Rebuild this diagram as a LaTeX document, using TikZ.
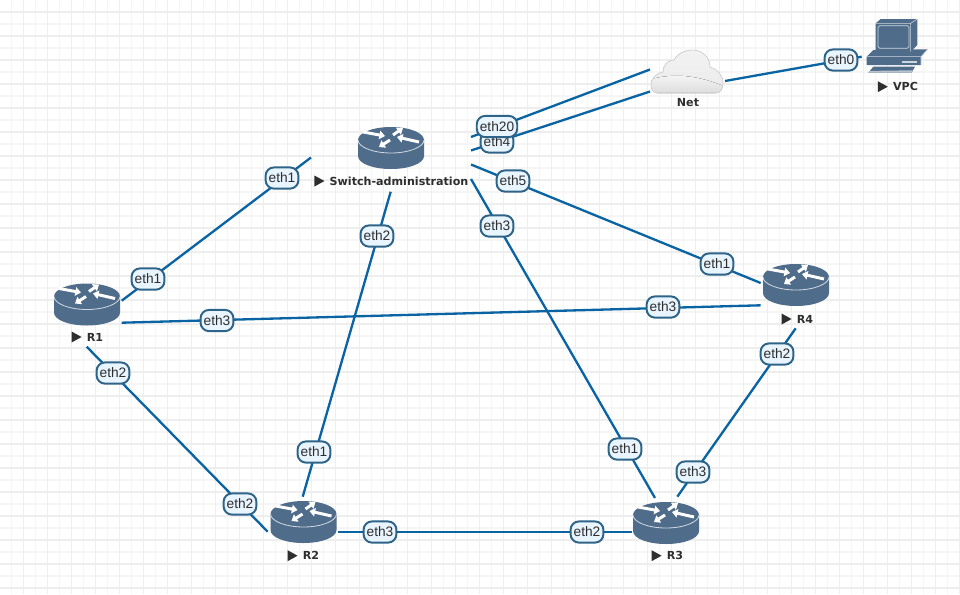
\documentclass[tikz,border=0pt]{standalone}
\usepackage{fontspec}
\setmainfont{Liberation Sans}
\newfontfamily\devfont{DejaVu Sans}
\usepackage{xcolor}
\usetikzlibrary{arrows.meta, positioning}
\definecolor{slate}{HTML}{4F6C8A}
\definecolor{rim}{HTML}{CDD6DF}
\definecolor{linkblue}{HTML}{0A64A4}
\definecolor{portedge}{HTML}{2F6489}
\definecolor{portfill}{HTML}{E8F4FE}
\definecolor{inkgrey}{HTML}{2E2E2E}
\definecolor{gridminor}{HTML}{F5F5F5}
\definecolor{gridmajor}{HTML}{EEEEEE}
\tikzset{%
	link/.style={
		draw=linkblue,
		line width=1.65pt
	},
	port/.style={
		draw=portedge,
		fill=portfill,
		line width=1.4pt,
		rounded corners=6pt,
		text=inkgrey,
		font=\fontsize{9.75}{10}\selectfont,
		inner xsep=2.2pt,
		inner ysep=0pt,
		minimum height=0.53cm
	},
	devtext/.style={
		text=inkgrey,
		inner sep=0pt,
		font=\devfont\bfseries\fontsize{7.9}{9}\selectfont
	},
	mover/.style={
		white,
		line width=2.1pt,
		-{Triangle[width=6pt,length=4pt]}
	},
	pics/router/.style={
		code={
			\fill[slate] (-33,-8) -- (-33,8) .. controls (-33,15.5) and (-18,21) .. (0,21) .. controls (18,21) and (33,15.5) .. (33,8) -- (33,-8) -- cycle;
			\fill[slate] (0,-8) ellipse [x radius=33, y radius=13];
			\draw[rim, line width=0.6pt] (-33,-8) .. controls (-33,-1) and (-18,5) .. (0,5) .. controls (18,5) and (33,-1) .. (33,-8);
			\draw[mover] (-28,-16) -- (-6,-12);
			\draw[mover] (2,-13) -- (12,-20);
			\draw[mover] (28,-6) -- (6,-11);
			\draw[mover] (-1,-8) -- (-12,-1);
		}
	}
}
% triangle in front of a device name
\newcommand{\playmark}[1]{\fill[inkgrey] ([xshift=-0.375cm]#1.west) ++(0,-5.5) -- ++(10,5.5) -- ++(-10,5.5) -- cycle;}
\newcommand{\cloudpath}{(657,93) .. controls (653,93) and (651,89) .. (651,85) .. controls (651,78) and (657,73) .. (663,72) .. controls (663,65) and (668,60) .. (674,60) .. controls (678,53) and (686,50) .. (692,50) .. controls (702,50) and (710,57) .. (710,67) .. controls (717,69) and (723,75) .. (723,83) .. controls (723,89) and (720,93) .. (716,93) -- cycle}

\begin{document}
\begin{tikzpicture}[x=0.025cm, y=-0.025cm]
	\useasboundingbox (0,0) rectangle (960,594);
	\fill[white] (0,0) rectangle (960,594);
	
	% grid
	\foreach \gx in {11.5,35.5,...,960} \draw[gridminor, line width=0.75pt] (\gx,0) -- (\gx,594);
	\foreach \gy in {24,48,...,594} \draw[gridminor, line width=0.75pt] (0,\gy) -- (960,\gy);
	\foreach \gx in {23.5,47.5,...,960} \draw[gridmajor, line width=0.9pt] (\gx,0) -- (\gx,594);
	\foreach \gy in {12,36,...,594} \draw[gridmajor, line width=0.9pt] (0,\gy) -- (960,\gy);
	
	% link ends
	\coordinate (swL) at (311,157.5);
	\coordinate (swS) at (390.7,191.7);
	\coordinate (swA) at (471,137);
	\coordinate (swB) at (471,150.5);
	\coordinate (swC) at (471,164.5);
	\coordinate (swD) at (471,179);
	\coordinate (netA) at (650,69.5);
	\coordinate (netB) at (650,91.5);
	\coordinate (netC) at (725,81);
	\coordinate (pcL) at (861.7,56.7);
	\coordinate (oneA) at (121.7,300.7);
	\coordinate (oneB) at (121.7,322.7);
	\coordinate (oneC) at (86.7,346.7);
	\coordinate (twoA) at (302.7,496.7);
	\coordinate (twoB) at (267.7,531.7);
	\coordinate (twoC) at (338.3,532.3);
	\coordinate (threeA) at (655,498);
	\coordinate (threeB) at (631.7,532.3);
	\coordinate (threeC) at (677.3,496.7);
	\coordinate (fourA) at (760.7,283);
	\coordinate (fourB) at (760.7,305.3);
	\coordinate (fourC) at (795.7,328.3);
	
	\draw[link] (oneA) -- (swL);
	\draw[link] (swS) -- (twoA);
	\draw[link] (swD) -- (threeA);
	\draw[link] (swC) -- (fourA);
	\draw[link] (swA) -- (netA);
	\draw[link] (swB) -- (netB);
	\draw[link] (netC) -- (pcL);
	\draw[link] (oneB) -- (fourB);
	\draw[link] (oneC) -- (twoB);
	\draw[link] (twoC) -- (threeB);
	\draw[link] (threeC) -- (fourC);
	
	% devices
	\pic at (391,148) {router};
	\pic at (87,304.5) {router};
	\pic at (303.5,522) {router};
	\pic at (666,523) {router};
	\pic at (796,285) {router};
	
	\fill[top color=white!90!gray, bottom color=white!84!gray] \cloudpath;
	\begin{scope}
		\clip \cloudpath;
		\fill[top color=white!95!gray, bottom color=white!74!gray] (648,80) .. controls (675,72) and (700,76) .. (726,87) -- (726,92) -- (648,92) -- cycle;
	\end{scope}
	\draw[white!68!gray, line width=0.6pt] \cloudpath;
	
	\fill[slate] (866.7,56.7) -- (873.3,50) -- (927.7,49.3) -- (921,56.7) -- (921,65) -- (866.7,65) -- cycle;
	\draw[rim, line width=0.4pt] (866.7,56.7) -- (921,56.7) -- (927.7,49.3) (921,56.7) -- (921,65);
	\fill[rim] (902.3,60.7) rectangle (916.7,63.3);
	\fill[slate] (868.3,72.7) -- (873.3,66.7) -- (915,66.7) -- (911.7,72.7) -- cycle;
	\fill[white!60!slate] (868.3,72.7) -- (869.8,70.9) -- (913.0,70.3) -- (911.7,72.7) -- cycle;
	\fill[slate] (875.7,23.3) -- (880.7,19) -- (917.3,19) -- (917.3,45) -- (910.7,51.7) -- (875.7,51.7) -- cycle;
	\draw[rim, line width=0.4pt] (875.7,23.3) -- (910.7,23.3) -- (917.3,19) (910.7,23.3) -- (910.7,51.7);
	\draw[rim, line width=0.6pt, rounded corners=1.2pt] (878,25.7) rectangle (909,48.3);
	
	% device names
	\node[devtext] (sw) at (399,181) {Switch-administration};
	\node[devtext] (r1) at (95,337) {R1};
	\node[devtext] (r2) at (311,555.7) {R2};
	\node[devtext] (r3) at (675,555.7) {R3};
	\node[devtext] (r4) at (805,319) {R4};
	\node[devtext] (net) at (688,103) {Net};
	\node[devtext] (vpc) at (905.5,86.7) {VPC};
	\playmark{sw}
	\playmark{r1}
	\playmark{r2}
	\playmark{r3}
	\playmark{r4}
	\playmark{vpc}
	
	% port labels
	\node[port] (pA) at (148,279) {eth1};
	\node[port] (pB) at (282,178) {eth1};
	\node[port] (pC) at (377,236) {eth2};
	\node[port] (pD) at (314,452) {eth1};
	\node[port] (pE) at (497,226) {eth3};
	\node[port] (pF) at (625,449) {eth1};
	\node[port] (pG) at (513,181) {eth5};
	\node[port] (pH) at (717,264) {eth1};
	\node[port] (pI) at (497,142) {eth4};
	\node[port] (pJ) at (497,126.5) {eth20};
	\node[port] (pK) at (841,60) {eth0};
	\node[port] (pL) at (217,320.5) {eth3};
	\node[port] (pM) at (663,307) {eth3};
	\node[port] (pN) at (113,373) {eth2};
	\node[port] (pO) at (240,504) {eth2};
	\node[port] (pP) at (380,532) {eth3};
	\node[port] (pQ) at (587,532) {eth2};
	\node[port] (pR) at (693,472) {eth3};
	\node[port] (pS) at (777,354) {eth2};
\end{tikzpicture}
\end{document}
